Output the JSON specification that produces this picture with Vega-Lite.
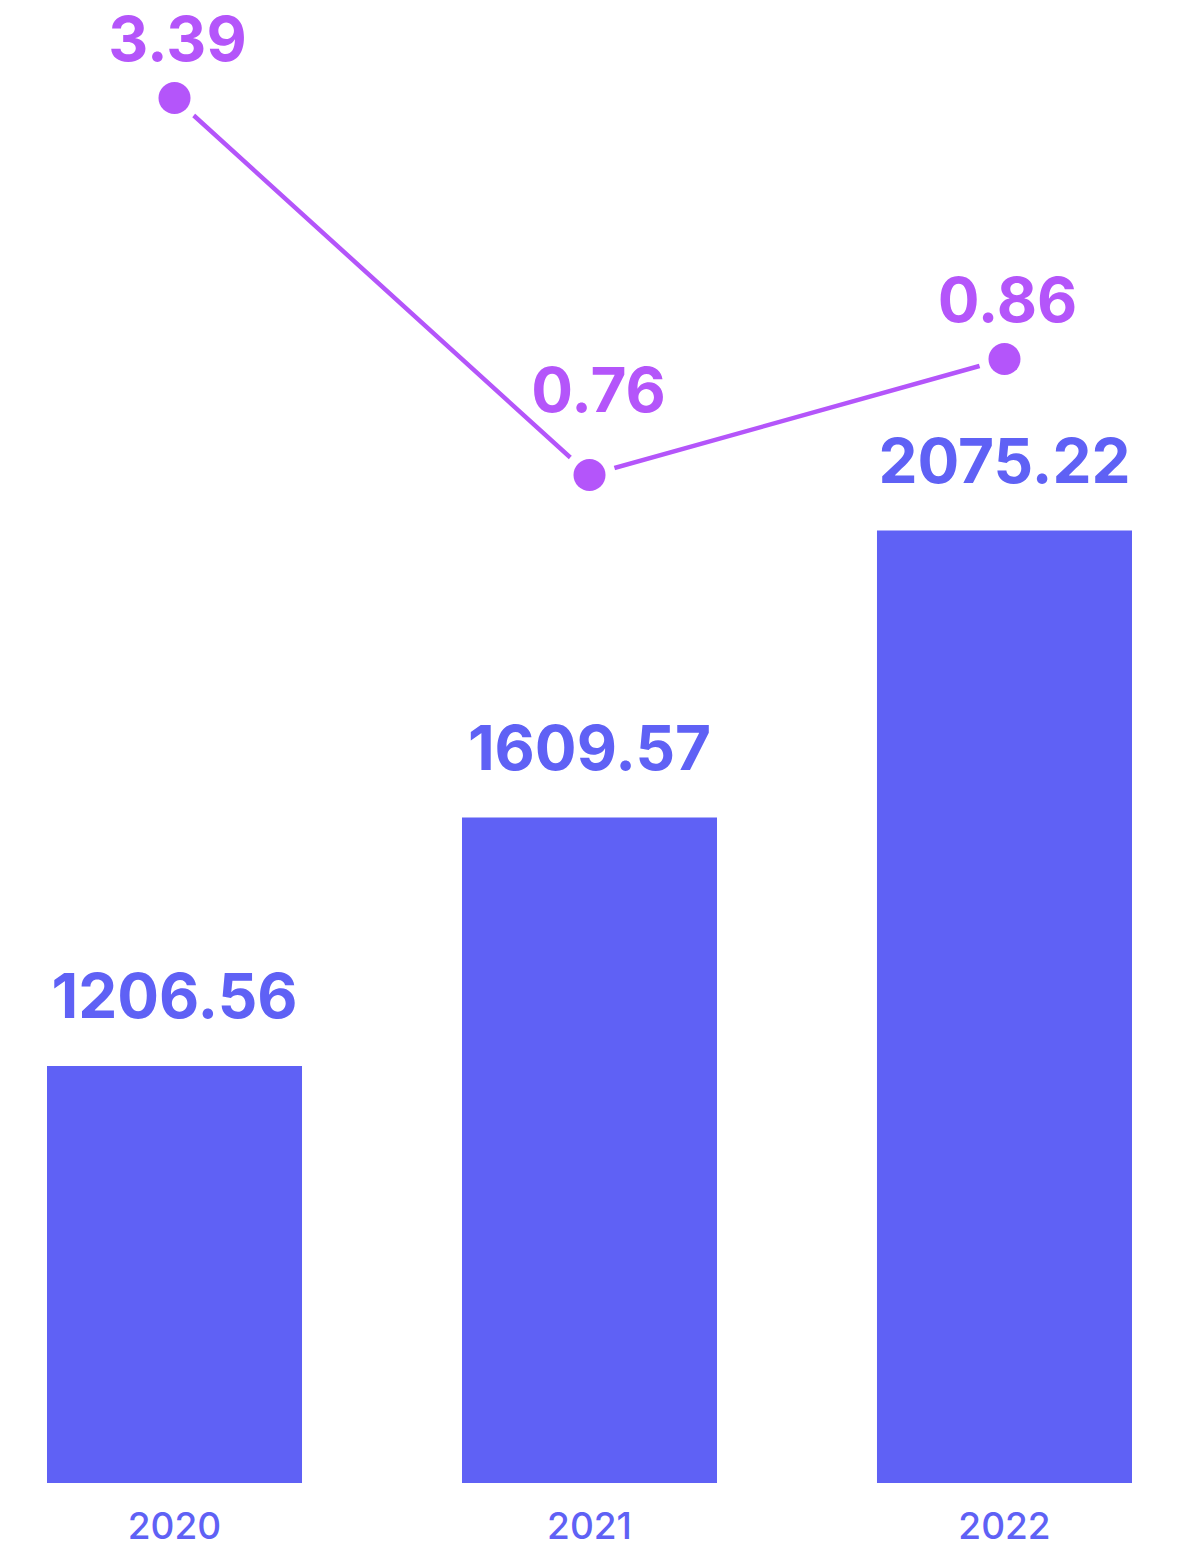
{
  "$schema": "https://vega.github.io/schema/vega-lite/v6.json",
  "width": 1184,
  "height": 1483,
  "autosize": "none",
  "padding": {"top": 0, "left": 0, "right": 0, "bottom": 64},
  "background": "white",
  "config": {"view": {"stroke": null}, "font": "Inter"},
  "data": {
    "values": [
      {"year": "2020", "revenue": 1206.56, "rate": 3.39},
      {"year": "2021", "revenue": 1609.57, "rate": 0.76},
      {"year": "2022", "revenue": 2075.22, "rate": 0.86}
    ]
  },
  "encoding": {
    "x": {
      "field": "year",
      "type": "nominal",
      "scale": {"range": [47, 1132], "paddingInner": 0.3855, "paddingOuter": 0},
      "axis": {
        "title": null,
        "ticks": false,
        "domain": false,
        "labelAngle": 0,
        "labelFont": "Inter",
        "labelFontSize": 37,
        "labelFontWeight": 500,
        "labelColor": "#5F61F5",
        "labelBaseline": "alphabetic",
        "labelPadding": 55,
        "zindex": 1
      }
    }
  },
  "layer": [
    {
      "layer": [
        {
          "mark": {"type": "bar", "color": "#5F61F5"},
          "encoding": {
            "y": {"field": "revenue", "type": "quantitative", "scale": {"domain": [530, 2936], "zero": false, "nice": false, "clamp": true}, "axis": null}
          }
        },
        {
          "mark": {"type": "text", "color": "#5F61F5", "font": "Inter", "fontWeight": "bold", "fontSize": 62, "baseline": "alphabetic", "dy": -48},
          "encoding": {
            "y": {"field": "revenue", "type": "quantitative", "scale": {"domain": [530, 2936], "zero": false, "nice": false, "clamp": true}, "axis": null},
            "text": {"field": "revenue", "type": "quantitative", "format": ".2f"}
          }
        }
      ]
    },
    {
      "encoding": {
        "y": {"field": "rate", "type": "quantitative", "scale": {"domain": [0.76, 0.86, 3.39], "range": [475, 359, 98], "zero": false, "nice": false}, "axis": null}
      },
      "layer": [
        {"mark": {"type": "line", "color": "#B455FA", "strokeWidth": 4.5}, "encoding": {}},
        {"mark": {"type": "point", "shape": "circle", "filled": true, "color": "white", "opacity": 1, "size": 2704}, "encoding": {}},
        {"mark": {"type": "point", "shape": "circle", "filled": true, "color": "#B455FA", "opacity": 1, "size": 1024}, "encoding": {}},
        {
          "transform": [{"filter": "datum.year !== '2021'"}],
          "mark": {"type": "text", "color": "#B455FA", "font": "Inter", "fontWeight": "bold", "fontSize": 62, "baseline": "alphabetic", "dy": -37, "dx": 3},
          "encoding": {"text": {"field": "rate", "type": "quantitative", "format": ".2f"}}
        },
        {
          "transform": [{"filter": "datum.year === '2021'"}],
          "mark": {"type": "text", "color": "#B455FA", "font": "Inter", "fontWeight": "bold", "fontSize": 62, "baseline": "alphabetic", "dy": -63, "dx": 9},
          "encoding": {"text": {"field": "rate", "type": "quantitative", "format": ".2f"}}
        }
      ]
    }
  ],
  "resolve": {"scale": {"y": "independent"}}
}
